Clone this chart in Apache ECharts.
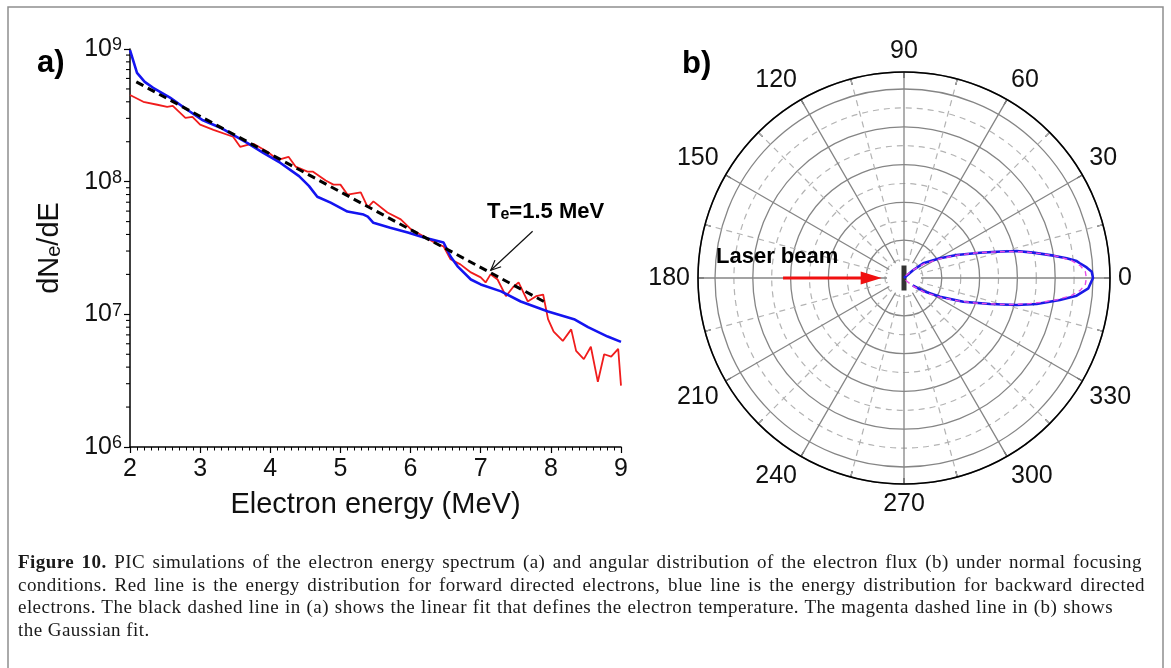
<!DOCTYPE html>
<html><head><meta charset="utf-8">
<script src="https://cdn.jsdelivr.net/npm/echarts@6/dist/echarts.min.js"></script>
<style>
html,body{margin:0;padding:0;background:#fff;}
#chart{position:absolute;left:0;top:0;width:1171px;height:668px;}
#cap{position:absolute;left:18px;top:551px;font-family:'Liberation Serif','Times New Roman',serif;font-size:19px;letter-spacing:0.45px;line-height:22.6px;color:#1a1a1a;}
.l{text-align:justify;text-align-last:justify;white-space:nowrap;}
</style></head>
<body>
<div id="chart"></div>
<div id="cap">
<div class="l" style="width:1124px"><b>Figure 10.</b> PIC simulations of the electron energy spectrum (a) and angular distribution of the electron flux (b) under normal focusing</div>
<div class="l" style="width:1127px">conditions. Red line is the energy distribution for forward directed electrons, blue line is the energy distribution for backward directed</div>
<div class="l" style="width:1095px">electrons. The black dashed line in (a) shows the linear fit that defines the electron temperature. The magenta dashed line in (b) shows</div>
<div>the Gaussian fit.</div>
</div>
<script>
// ---------- data: panel (a) energy spectrum ----------
const xTicks = [2, 3, 4, 5, 6, 7, 8, 9];
const blueE = [2.00, 2.10, 2.21, 2.33, 2.57, 2.81, 3.04, 3.29, 3.47, 3.67, 3.90, 4.14, 4.41, 4.55, 4.67, 4.86, 5.10, 5.33, 5.39, 5.47, 5.71, 5.96, 6.19, 6.47, 6.57, 6.67, 6.86, 7.00, 7.29, 7.57, 7.96, 8.33, 8.53, 8.81, 9.00];
const blueN = [9.8e8, 6.6e8, 5.65e8, 5.1e8, 4.3e8, 3.5e8, 2.9e8, 2.55e8, 2.25e8, 1.96e8, 1.65e8, 1.39e8, 1.1e8, 9.3e7, 7.7e7, 6.95e7, 5.95e7, 5.65e7, 5.45e7, 4.9e7, 4.5e7, 4.14e7, 3.8e7, 3.48e7, 2.73e7, 2.3e7, 1.83e7, 1.68e7, 1.49e7, 1.25e7, 1.05e7, 9.2e6, 8.0e6, 6.8e6, 6.2e6];
const redE = [2.00, 2.19, 2.39, 2.53, 2.61, 2.79, 2.89, 3.00, 3.19, 3.47, 3.57, 3.69, 3.76, 3.96, 4.11, 4.26, 4.36, 4.53, 4.61, 4.79, 4.90, 5.00, 5.10, 5.29, 5.39, 5.47, 5.67, 5.86, 6.00, 6.19, 6.39, 6.47, 6.57, 6.71, 6.86, 7.00, 7.07, 7.14, 7.24, 7.36, 7.46, 7.54, 7.67, 7.79, 7.89, 7.96, 8.04, 8.17, 8.29, 8.36, 8.47, 8.57, 8.67, 8.76, 8.86, 8.96, 9.00];
const redN = [4.5e8, 4.0e8, 3.8e8, 3.66e8, 3.73e8, 3.03e8, 3.08e8, 2.69e8, 2.46e8, 2.18e8, 1.83e8, 1.9e8, 1.93e8, 1.68e8, 1.46e8, 1.54e8, 1.3e8, 1.19e8, 1.19e8, 1.02e8, 9.5e7, 9.5e7, 8.0e7, 8.3e7, 6.4e7, 7.1e7, 5.85e7, 5.2e7, 4.4e7, 3.86e7, 3.36e7, 3.25e7, 2.6e7, 2.38e7, 2.07e7, 1.9e7, 1.74e7, 2.0e7, 1.83e7, 1.37e7, 1.6e7, 1.74e7, 1.25e7, 1.37e7, 1.41e7, 9.2e6, 7.4e6, 6.3e6, 7.7e6, 5.3e6, 4.6e6, 5.7e6, 3.1e6, 5.0e6, 4.8e6, 5.5e6, 2.9e6];
const fitE = [2.09, 7.90];
const fitN = [5.65e8, 1.25e7];
const yMinor = [2e6,3e6,4e6,5e6,6e6,7e6,8e6,9e6,2e7,3e7,4e7,5e7,6e7,7e7,8e7,9e7,2e8,3e8,4e8,5e8,6e8,7e8,8e8,9e8];
const teArrowE = [7.74, 7.143];
const teArrowN = [4.23e7, 2.15e7];

// ---------- data: panel (b) angular distribution ----------
const lobeAngle = [320, 326, 332.6, 338.2, 343.2, 346.5, 348.9, 352, 354.15, 356.8, 360, 1.9, 3.3, 4.8, 5.6, 6.9, 8.5, 11.1, 13.5, 15.8, 18.4, 23.6, 28.7, 37.3, 40.7, 45];
const lobeR     = [0.06, 0.123, 0.215, 0.338, 0.475, 0.613, 0.715, 0.833, 0.918, 0.977, 1.0, 0.994, 0.968, 0.934, 0.918, 0.867, 0.80, 0.697, 0.613, 0.51, 0.424, 0.304, 0.217, 0.128, 0.065, 0];
const fitAngle = [305, 318, 325, 332, 337, 341, 344, 346, 348, 350, 352, 354, 356, 358, 360, 2, 4, 6, 8, 10, 12, 14, 16, 19, 23, 28, 35, 42, 55];
const fitR     = [0.015, 0.065, 0.13, 0.215, 0.31, 0.41, 0.50, 0.58, 0.66, 0.74, 0.82, 0.89, 0.935, 0.96, 0.965, 0.96, 0.935, 0.89, 0.82, 0.74, 0.66, 0.58, 0.50, 0.41, 0.31, 0.215, 0.13, 0.065, 0.015];
const laserArrow = [0.64, 180, 0.118, 180];

const FONT = "'Liberation Sans', Arial, sans-serif";
const zip = (a, b) => a.map((v, i) => [v, b[i]]);

const chart = echarts.init(document.getElementById('chart'), null, {renderer: 'canvas'});

const option = {
  animation: false,
  backgroundColor: '#fff',
  textStyle: {fontFamily: FONT},
  grid: [{left: 130, top: 49, width: 491, height: 398}],
  xAxis: [{
    type: 'value', min: xTicks[0], max: xTicks[xTicks.length - 1], interval: 1,
    axisLine: {onZero: false, lineStyle: {color: '#000', width: 1.5}},
    axisTick: {show: true, length: 6, lineStyle: {color: '#000', width: 1.2}},
    minorTick: {show: true, splitNumber: 10, length: 3.5, lineStyle: {color: '#000', width: 1}},
    splitLine: {show: false},
    axisLabel: {fontSize: 25, color: '#111', margin: 10, fontFamily: FONT},
    name: 'Electron energy (MeV)', nameLocation: 'middle', nameGap: 43,
    nameTextStyle: {fontSize: 29, color: '#111', fontFamily: FONT}
  }],
  yAxis: [{
    type: 'log', logBase: 10, min: 1e6, max: 1e9,
    axisLine: {onZero: false, lineStyle: {color: '#000', width: 1.5}},
    axisTick: {show: true, length: 6, lineStyle: {color: '#000', width: 1.2}},
    splitLine: {show: false},
    axisLabel: {
      margin: 8, fontFamily: FONT,
      formatter: v => '{b|10}{s|' + Math.round(Math.log10(v)) + '}',
      rich: {b: {fontSize: 25, color: '#111', fontFamily: FONT}, s: {fontSize: 18, color: '#111', verticalAlign: 'top', fontFamily: FONT}}
    },
    name: 'dN{e|e}/dE', nameLocation: 'middle', nameGap: 66,
    nameTextStyle: {fontSize: 29, color: '#111', fontFamily: FONT,
      rich: {e: {fontSize: 20, color: '#111', verticalAlign: 'bottom', fontFamily: FONT}}}
  }],
  polar: [
    {center: [904, 278], radius: 206},
    {center: [904, 278], radius: 206}
  ],
  angleAxis: [{
    polarIndex: 0, type: 'value', min: 0, max: 360, interval: 30, startAngle: 0, clockwise: false,
    axisLine: {show: true, lineStyle: {color: '#000', width: 1.6}},
    axisTick: {show: true, inside: true, length: 6, lineStyle: {color: '#000', width: 1.2}},
    minorTick: {show: true, splitNumber: 2, length: 6, lineStyle: {color: '#000', width: 1.2}},
    axisLabel: {show: true, fontSize: 25, color: '#111', margin: 8, fontFamily: FONT,
      formatter: v => (v >= 360 ? '' : String(v))},
    splitLine: {show: true, lineStyle: {color: '#858585', width: 1.3}},
    minorSplitLine: {show: true, lineStyle: {color: '#b3b3b3', width: 1.2, type: [6, 5]}}
  }, {
    polarIndex: 1, type: 'value', min: 0, max: 360, startAngle: 0, clockwise: false,
    axisLine: {show: false}, axisTick: {show: false}, axisLabel: {show: false},
    splitLine: {show: false}
  }],
  radiusAxis: [{
    polarIndex: 0, type: 'value', min: 0, max: 1.09, interval: 0.2,
    axisLine: {show: false}, axisTick: {show: false}, axisLabel: {show: false},
    splitLine: {show: true, lineStyle: {color: '#858585', width: 1.3}}
  }, {
    polarIndex: 1, type: 'value', min: 0, max: 1.09, interval: 0.1,
    axisLine: {show: false}, axisTick: {show: false}, axisLabel: {show: false},
    splitLine: {show: true, lineStyle: {color: ['rgba(0,0,0,0)', '#b3b3b3'], width: 1.2, type: [6, 5]}}
  }],
  graphic: [
    {type: 'rect', z: 100, silent: true, shape: {x: 8, y: 7, width: 1155, height: 700},
      style: {fill: 'none', stroke: '#8f8f8f', lineWidth: 1.5}},
    {type: 'text', z: 100, left: 37, top: 48, style: {text: 'a)', font: 'bold 31px ' + FONT, fill: '#000'}},
    {type: 'text', z: 100, left: 682, top: 49, style: {text: 'b)', font: 'bold 31px ' + FONT, fill: '#000'}},
    {type: 'text', z: 100, left: 487, top: 201, style: {
      text: 'T{s|e}=1.5 MeV', font: 'bold 22px ' + FONT, fill: '#000',
      rich: {s: {font: 'bold 16px ' + FONT, fill: '#000', verticalAlign: 'bottom'}}}},
    {type: 'text', z: 100, left: 716, top: 246, style: {text: 'Laser beam', font: 'bold 22px ' + FONT, fill: '#000'}}
  ],
  series: [
    {type: 'line', xAxisIndex: 0, yAxisIndex: 0, data: zip(redE, redN), showSymbol: false, symbol: 'none',
      lineStyle: {color: '#f01c1c', width: 1.8}, silent: true},
    {type: 'line', xAxisIndex: 0, yAxisIndex: 0, data: zip(blueE, blueN), showSymbol: false, symbol: 'none',
      lineStyle: {color: '#1414f0', width: 2.6}, silent: true},
    {type: 'line', xAxisIndex: 0, yAxisIndex: 0, data: zip(fitE, fitN), showSymbol: false, symbol: 'none',
      lineStyle: {color: '#000', width: 3, type: [8, 5]}, silent: true},
    {type: 'custom', xAxisIndex: 0, yAxisIndex: 0, silent: true, data: yMinor.map(v => [xTicks[0], v]),
      encode: {x: 0, y: 1},
      renderItem: (params, api) => {
        const p = api.coord([api.value(0), api.value(1)]);
        return {type: 'line', shape: {x1: p[0] - 4, y1: p[1], x2: p[0], y2: p[1]}, style: {stroke: '#000', lineWidth: 1.1}};
      }},
    {type: 'custom', xAxisIndex: 0, yAxisIndex: 0, silent: true,
      data: [[teArrowE[0], teArrowN[0], teArrowE[1], teArrowN[1]]], encode: {x: [0, 2], y: [1, 3]},
      renderItem: (params, api) => {
        const a = api.coord([api.value(0), api.value(1)]);
        const b = api.coord([api.value(2), api.value(3)]);
        const dx = b[0] - a[0], dy = b[1] - a[1], L = Math.hypot(dx, dy);
        const ux = dx / L, uy = dy / L, px = -uy, py = ux, h = 10, w = 4.5;
        return {type: 'group', children: [
          {type: 'line', shape: {x1: a[0], y1: a[1], x2: b[0], y2: b[1]}, style: {stroke: '#111', lineWidth: 1.2}},
          {type: 'polyline', shape: {points: [[b[0] - ux * h + px * w, b[1] - uy * h + py * w], [b[0], b[1]], [b[0] - ux * h - px * w, b[1] - uy * h - py * w]]},
            style: {stroke: '#111', lineWidth: 1.2, fill: 'none'}}
        ]};
      }},
    // polar panel
    {type: 'custom', coordinateSystem: 'polar', polarIndex: 0, silent: true, data: [[0.09, 0]],
      renderItem: (params, api) => {
        const c = api.coord([0, 0]);
        const e = api.coord([api.value(0), 0]);
        return {type: 'circle', shape: {cx: c[0], cy: c[1], r: Math.hypot(e[0] - c[0], e[1] - c[1])}, style: {fill: '#fff'}};
      }},
    {type: 'custom', coordinateSystem: 'polar', polarIndex: 0, silent: true, data: [laserArrow],
      renderItem: (params, api) => {
        const a = api.coord([api.value(0), api.value(1)]);
        const b = api.coord([api.value(2), api.value(3)]);
        const dx = b[0] - a[0], dy = b[1] - a[1], L = Math.hypot(dx, dy);
        const ux = dx / L, uy = dy / L, px = -uy, py = ux, h = 21, w = 6.5;
        const bx = b[0] - ux * h, by = b[1] - uy * h;
        return {type: 'group', children: [
          {type: 'line', shape: {x1: a[0], y1: a[1], x2: bx + ux * 2, y2: by + uy * 2}, style: {stroke: '#f01010', lineWidth: 3}},
          {type: 'polygon', shape: {points: [[b[0], b[1]], [bx + px * w, by + py * w], [bx - px * w, by - py * w]]}, style: {fill: '#f01010'}}
        ]};
      }},
    {type: 'line', coordinateSystem: 'polar', polarIndex: 0, data: zip(lobeR, lobeAngle), showSymbol: false, symbol: 'none',
      lineStyle: {color: '#1a1ae6', width: 2.6}, silent: true},
    {type: 'line', coordinateSystem: 'polar', polarIndex: 0, data: zip(fitR, fitAngle), showSymbol: false, symbol: 'none',
      lineStyle: {color: '#e64ae6', width: 1.4, type: [5, 4]}, silent: true},
    {type: 'scatter', coordinateSystem: 'polar', polarIndex: 0, data: [[0, 0]], symbol: 'rect', symbolSize: [5, 25],
      itemStyle: {color: '#000'}, silent: true}
  ]
};
chart.setOption(option);
</script>
</body></html>
